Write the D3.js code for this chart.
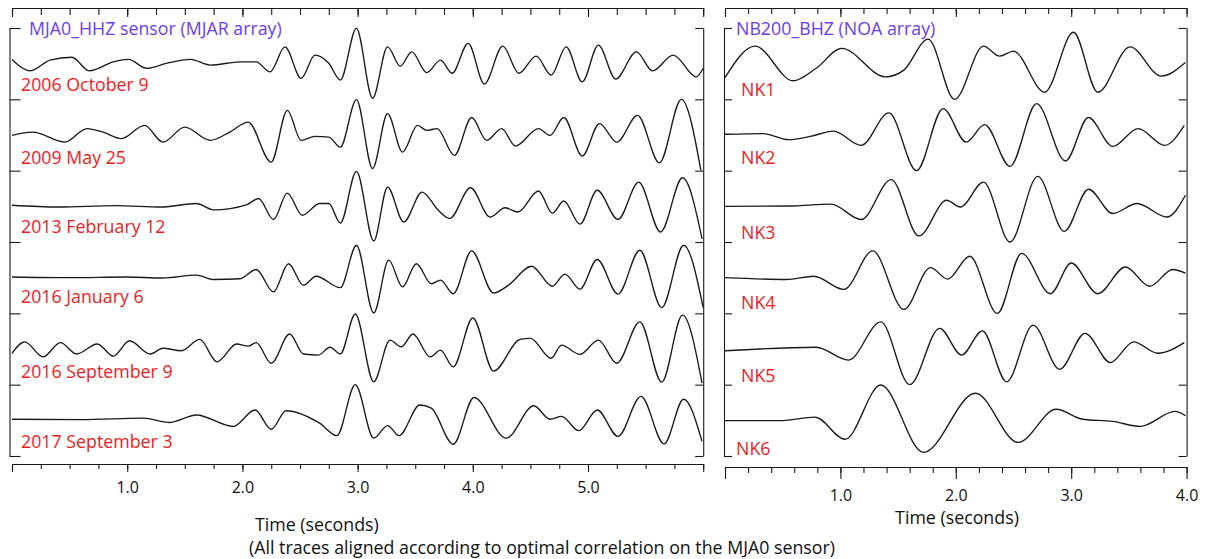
<!DOCTYPE html>
<html><head><meta charset="utf-8">
<script src="https://cdn.jsdelivr.net/npm/d3@7"></script>
<style>body{margin:0;background:#fff} svg{display:block} text{font-family:"Open Sans",sans-serif}</style>
</head><body><svg id="c" width="1208" height="559"></svg>
<script>
// ---------------- DATA ----------------
const leftTitle = "MJA0_HHZ sensor (MJAR array)";
const rightTitle = "NB200_BHZ (NOA array)";
const leftLabels = ["2006 October 9","2009 May 25","2013 February 12","2016 January 6","2016 September 9","2017 September 3"];
const rightLabels = ["NK1","NK2","NK3","NK4","NK5","NK6"];
const leftTickLabels = ["1.0","2.0","3.0","4.0","5.0"];
const rightTickLabels = ["1.0","2.0","3.0","4.0"];
const xTitle = "Time (seconds)";
const note = "(All traces aligned according to optimal correlation on the MJA0 sensor)";

// waveform extrema [time (s), normalised amplitude]
const w2006 = [[0,0.12],[0.16,-0.20],[0.33,0.10],[0.52,0.18],[0.67,-0.20],[0.88,0.05],[1.01,0.12],[1.17,-0.13],[1.34,0.01],[1.55,0.12],[1.72,-0.04],[1.98,0.05],[2.12,0.05],[2.24,-0.23],[2.37,0.47],[2.51,-0.41],[2.63,0.24],[2.75,0.01],[2.85,-0.46],[2.99,0.99],[3.13,-0.97],[3.26,0.47],[3.37,-0.07],[3.47,0.33],[3.60,-0.25],[3.72,0.10],[3.82,-0.27],[3.96,0.57],[4.10,-0.57],[4.26,0.49],[4.40,-0.27],[4.55,0.21],[4.68,-0.32],[4.81,0.47],[4.95,-0.51],[5.09,0.52],[5.24,-0.43],[5.42,0.33],[5.56,-0.20],[5.74,0.24],[5.94,-0.37],[6.00,-0.13]];
const w2009 = [[0,-0.01],[0.18,0.08],[0.46,-0.20],[0.65,0.18],[0.79,0.08],[0.95,-0.10],[1.15,0.27],[1.31,-0.20],[1.50,0.22],[1.72,-0.15],[1.89,0.08],[2.05,0.36],[2.25,-0.76],[2.39,0.69],[2.51,-0.15],[2.63,-0.04],[2.75,-0.06],[2.85,-0.34],[2.99,0.99],[3.13,-0.94],[3.26,0.60],[3.39,-0.48],[3.52,0.27],[3.60,0.13],[3.69,0.18],[3.84,-0.57],[3.99,0.49],[4.12,-0.15],[4.25,0.18],[4.37,-0.31],[4.57,0.18],[4.67,-0.01],[4.79,0.49],[4.95,-0.59],[5.10,0.32],[5.25,-0.20],[5.43,0.55],[5.62,-0.78],[5.81,1.00],[5.98,-0.99]];
const w2013 = [[0,0.03],[0.40,-0.02],[0.90,0.02],[1.30,-0.02],[1.60,0.08],[1.75,-0.10],[2.04,0.05],[2.14,0.22],[2.27,-0.37],[2.39,0.37],[2.52,-0.25],[2.67,0.08],[2.75,0.08],[2.85,-0.47],[2.99,0.98],[3.14,-0.97],[3.26,0.54],[3.40,-0.44],[3.56,0.40],[3.70,-0.11],[3.80,-0.34],[3.98,0.52],[4.15,-0.30],[4.28,-0.04],[4.39,-0.16],[4.57,0.43],[4.69,-0.19],[4.79,0.15],[4.93,-0.50],[5.08,0.45],[5.26,-0.37],[5.44,0.68],[5.63,-0.72],[5.82,0.80],[5.99,-0.91]];
const w2016a = [[0,0.02],[0.50,0.0],[1.00,0.02],[1.30,-0.01],[1.60,0.07],[1.75,-0.05],[1.98,-0.03],[2.12,0.23],[2.27,-0.40],[2.40,0.39],[2.53,-0.21],[2.64,0.04],[2.85,-0.28],[2.99,0.91],[3.14,-0.99],[3.27,0.49],[3.39,-0.26],[3.51,0.39],[3.64,-0.17],[3.72,-0.07],[3.83,-0.45],[3.99,0.75],[4.18,-0.43],[4.31,-0.21],[4.51,0.32],[4.69,-0.24],[4.80,0.10],[4.93,-0.32],[5.08,0.51],[5.26,-0.46],[5.45,0.77],[5.64,-0.84],[5.83,0.91],[6.00,-0.84]];
const w2016b = [[0,-0.12],[0.11,0.20],[0.27,-0.22],[0.42,0.18],[0.56,-0.14],[0.74,0.14],[0.88,-0.20],[1.02,0.23],[1.20,-0.14],[1.31,0.02],[1.47,-0.05],[1.63,0.27],[1.78,-0.36],[1.95,0.14],[2.05,0.08],[2.12,0.18],[2.25,-0.40],[2.41,0.42],[2.53,-0.14],[2.66,-0.17],[2.76,0.05],[2.85,-0.14],[2.98,0.98],[3.14,-0.92],[3.28,0.25],[3.38,0.06],[3.48,0.42],[3.63,-0.22],[3.72,-0.03],[3.83,-0.50],[4.00,0.87],[4.18,-0.62],[4.41,0.27],[4.50,0.30],[4.68,-0.26],[4.77,0.11],[4.93,-0.15],[5.09,0.25],[5.25,-0.40],[5.45,0.76],[5.64,-0.93],[5.82,0.95],[5.99,-0.96]];
const w2017 = [[0,0.03],[0.60,0.02],[1.14,0.06],[1.37,-0.06],[1.60,0.15],[1.92,-0.17],[2.11,0.29],[2.25,-0.25],[2.38,0.27],[2.67,-0.08],[2.82,-0.43],[2.98,1.00],[3.14,-0.50],[3.26,-0.15],[3.36,-0.43],[3.54,0.43],[3.64,0.34],[3.83,-0.67],[4.01,0.64],[4.29,-0.50],[4.53,0.41],[4.67,0.03],[4.77,0.11],[4.92,-0.29],[5.08,0.29],[5.26,-0.45],[5.46,0.67],[5.66,-0.66],[5.83,0.59],[5.99,-0.59]];

const wNK1 = [[0,-0.39],[0.26,0.49],[0.59,-0.48],[0.79,-0.13],[1.01,0.43],[1.39,-0.37],[1.55,-0.18],[1.76,0.69],[1.99,-1.00],[2.24,0.49],[2.38,0.21],[2.50,0.35],[2.77,-0.80],[3.02,0.88],[3.23,-0.80],[3.51,0.47],[3.78,-0.35],[3.99,0.03]];
const wNK2 = [[0,0.02],[0.33,0.04],[0.55,-0.13],[0.74,-0.04],[0.94,0.11],[1.18,-0.29],[1.42,0.62],[1.66,-1.00],[1.89,0.74],[2.09,-0.20],[2.25,0.29],[2.47,-0.88],[2.70,0.88],[2.95,-0.73],[3.15,0.49],[3.36,-0.32],[3.58,0.18],[3.81,-0.29],[3.98,0.27]];
const wNK3 = [[0,0.0],[0.56,0.01],[0.92,0.06],[1.18,-0.37],[1.44,0.75],[1.68,-0.83],[1.92,0.17],[2.04,-0.02],[2.24,0.68],[2.47,-1.00],[2.71,0.84],[2.94,-0.70],[3.15,0.48],[3.36,-0.20],[3.57,0.08],[3.83,-0.30],[3.99,0.31]];
const wNK4 = [[0,0.0],[0.53,-0.05],[0.77,0.04],[1.03,-0.33],[1.28,0.75],[1.55,-0.89],[1.78,0.28],[1.93,-0.04],[2.12,0.60],[2.36,-1.00],[2.57,0.68],[2.82,-0.45],[3.00,0.41],[3.23,-0.45],[3.47,0.30],[3.68,-0.24],[3.88,0.23],[3.99,0.13]];
const wNK5 = [[0,-0.05],[0.79,0.05],[1.07,-0.31],[1.35,0.76],[1.60,-1.00],[1.86,0.58],[2.05,-0.17],[2.23,0.51],[2.44,-0.92],[2.67,0.67],[2.90,-0.57],[3.12,0.44],[3.34,-0.38],[3.54,0.20],[3.75,-0.12],[3.98,0.18]];
const wNK6 = [[0,-0.01],[0.48,-0.01],[0.78,0.09],[1.04,-0.53],[1.35,0.99],[1.72,-0.90],[2.17,0.76],[2.54,-0.62],[2.87,0.31],[3.10,0.03],[3.36,-0.03],[3.60,-0.17],[3.90,0.25],[3.99,0.13]];

const leftTraces = [w2006, w2009, w2013, w2016a, w2016b, w2017];
const rightTraces = [wNK1, wNK2, wNK3, wNK4, wNK5, wNK6];

// ---------------- LAYOUT ----------------
const svg = d3.select("#c");
const bandTop = 28, bandBot = 456, nBands = 6;
const blue = "#6b3cf6", red = "#ee1c24", ink = "#1a1a1a";
const bigFont = "17.8px", tickFont = "16px";

const xL = d3.scaleLinear().domain([0, 6]).range([12, 703.2]);
const xR = d3.scaleLinear().domain([0, 4]).range([725, 1186.6]);
const yFrame = d3.scaleLinear().domain([0, nBands]).range([bandTop, bandBot]);

function bandScale(i) {
  return d3.scaleLinear().domain([-1, 1]).range([yFrame(i + 1), yFrame(i)]);
}

function styleAxis(g) {
  g.selectAll("path,line").attr("stroke", ink).attr("stroke-width", 1.1);
  g.selectAll("text").attr("fill", "#111").style("font-family", '"Open Sans",sans-serif');
}

function panel(x, left, right, bottomY, step, majorTop, minorTop, majorBot, minorBot, tickLabels, pad, leftTick, traces) {
  const [d0, d1] = x.domain();
  const minors = d3.range(d0, d1 + 1e-9, step).map(v => +v.toFixed(3));
  const majors = d3.range(d0, d1 + 1e-9, 1);
  svg.append("g").attr("transform", "translate(0,8)")
    .call(d3.axisBottom(x).tickValues(minors).tickSize(minorTop).tickSizeOuter(0).tickFormat(""))
    .call(styleAxis);
  svg.append("g").attr("transform", "translate(0,8)")
    .call(d3.axisBottom(x).tickValues(majors).tickSize(majorTop).tickSizeOuter(0).tickFormat(""))
    .call(styleAxis).select(".domain").remove();
  svg.append("g").attr("transform", `translate(0,${bottomY})`)
    .call(d3.axisBottom(x).tickValues(minors).tickSize(minorBot).tickSizeOuter(0).tickFormat(""))
    .call(styleAxis);
  svg.append("g").attr("transform", `translate(0,${bottomY})`)
    .call(d3.axisBottom(x).tickValues(majors).tickSize(majorBot).tickSizeOuter(0)
      .tickPadding(pad).tickFormat(d => d >= 1 ? tickLabels[d - 1] : ""))
    .call(styleAxis)
    .call(g => g.select(".domain").remove())
    .call(g => g.selectAll("text").style("font-size", tickFont));
  svg.append("g").attr("transform", `translate(${left},0)`)
    .call(d3.axisLeft(yFrame).ticks(nBands).tickSize(-leftTick).tickSizeOuter(0).tickFormat(""))
    .call(styleAxis);
  svg.append("g").attr("transform", `translate(${right},0)`)
    .call(d3.axisRight(yFrame).ticks(nBands).tickSize(-8).tickSizeOuter(0).tickFormat(""))
    .call(styleAxis);
  traces.forEach((tr, i) => {
    const y = bandScale(i);
    const line = d3.line().x(d => x(d[0])).y(d => y(d[1])).curve(d3.curveMonotoneX);
    svg.append("path").datum(tr).attr("d", line)
      .attr("fill", "none").attr("stroke", ink).attr("stroke-width", 1.35)
      .attr("stroke-linejoin", "round");
  });
}

panel(xL, 9.5, 703.2, 464, 0.25, 9, 7, 8, 5, leftTickLabels, 9.3, 11, leftTraces);
panel(xR, 724, 1186.6, 467, 0.2, 9, 6, 12, 6, rightTickLabels, 10.6, 8, rightTraces);

const leftLabelY = [91, 164, 233, 303, 378, 448];
const rightLabelY = [96, 164, 239, 309, 382, 455];
svg.append("text").attr("x", 29).attr("y", 35).attr("fill", blue).style("font-size", bigFont).text(leftTitle);
svg.append("text").attr("x", 736).attr("y", 35).attr("fill", blue).style("font-size", bigFont).text(rightTitle);
svg.selectAll(".ll").data(leftLabels).enter().append("text")
  .attr("x", 21).attr("y", (d, i) => leftLabelY[i]).attr("fill", red).style("font-size", bigFont).text(d => d);
svg.selectAll(".rl").data(rightLabels).enter().append("text")
  .attr("x", (d, i) => i === 5 ? 736 : 741).attr("y", (d, i) => rightLabelY[i]).attr("fill", red).style("font-size", bigFont).text(d => d);

svg.append("text").attr("x", 255).attr("y", 531).attr("fill", "#111").style("font-size", bigFont).text(xTitle);
svg.append("text").attr("x", 249).attr("y", 554).attr("fill", "#111").style("font-size", bigFont).text(note);
svg.append("text").attr("x", 957).attr("y", 524).attr("text-anchor", "middle").attr("fill", "#111").style("font-size", bigFont).text(xTitle);
</script></body></html>
